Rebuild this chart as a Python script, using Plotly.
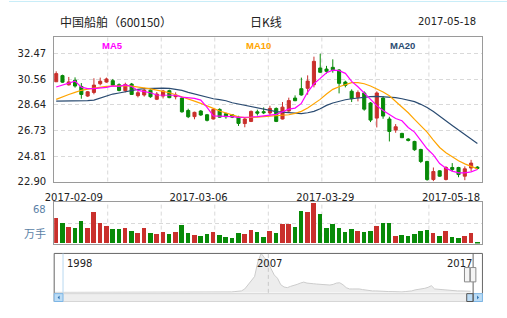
import plotly.graph_objects as go

W, H = 507, 318

# ---------------- data ----------------
opens = [30.37, 30.83, 30.14, 30.48, 30.02, 29.30, 29.57, 30.22, 30.35, 30.45,
         30.15, 29.70, 30.20, 29.33, 29.38, 29.74, 29.06, 29.30, 29.70, 29.25,
         29.15, 28.22, 27.76, 28.18, 27.90, 27.58, 28.30, 27.98, 27.90, 27.72,
         27.24, 27.40, 28.12, 28.13, 28.03, 28.37, 27.58, 28.18, 29.15, 29.85,
         29.88, 30.15, 31.40, 31.32, 31.45, 31.25, 30.35, 29.66, 29.20, 29.53,
         28.78, 27.65, 29.15, 27.58, 26.75, 26.50, 26.08, 25.90, 25.30, 24.40,
         23.05, 23.70, 23.05, 23.95, 23.95, 23.30, 23.91, 23.98]
highs = [31.15, 30.90, 30.73, 30.70, 30.27, 29.68, 30.63, 30.68, 30.68, 30.58,
         30.25, 30.30, 30.28, 29.68, 29.92, 29.80, 29.60, 29.76, 29.78, 29.58,
         29.22, 28.35, 28.13, 28.25, 27.96, 28.35, 28.38, 28.05, 27.95, 27.82,
         27.72, 28.22, 28.28, 28.45, 28.57, 28.45, 28.85, 29.18, 29.35, 30.68,
         30.85, 32.25, 32.47, 31.56, 32.05, 31.32, 30.45, 29.80, 29.72, 29.65,
         28.85, 29.65, 29.30, 27.75, 27.20, 26.55, 26.15, 25.95, 25.35, 24.45,
         23.95, 23.75, 24.05, 24.28, 24.00, 24.03, 24.52, 24.05]
lows = [30.35, 30.29, 30.09, 29.93, 29.10, 29.24, 29.43, 30.10, 30.30, 30.05,
        29.65, 29.58, 29.38, 29.20, 29.26, 29.17, 29.00, 29.12, 29.14, 29.05,
        28.05, 27.65, 27.56, 27.82, 27.40, 27.55, 27.68, 27.60, 27.65, 27.06,
        26.96, 27.35, 27.84, 27.95, 27.85, 27.35, 27.55, 28.12, 28.92, 29.33,
        29.40, 29.95, 31.02, 30.98, 31.05, 29.50, 29.95, 28.85, 28.90, 28.20,
        27.35, 26.95, 27.60, 25.90, 26.55, 26.16, 25.90, 25.20, 24.28, 22.95,
        22.92, 23.25, 22.98, 23.65, 23.22, 23.00, 23.66, 23.80]
closes = [30.98, 30.34, 30.36, 30.05, 29.42, 29.62, 30.12, 30.41, 30.58, 30.12,
          29.72, 30.17, 29.42, 29.55, 29.74, 29.25, 29.45, 29.68, 29.18, 29.38,
          28.12, 27.75, 28.08, 27.88, 27.48, 28.30, 27.72, 27.75, 27.72, 27.25,
          27.58, 28.15, 28.02, 28.05, 28.37, 27.40, 28.47, 28.96, 28.95, 29.38,
          30.42, 31.90, 31.08, 31.15, 31.27, 30.25, 30.10, 29.10, 29.56, 28.32,
          27.50, 29.53, 27.80, 26.65, 27.00, 26.18, 25.98, 25.28, 24.40, 23.05,
          23.65, 23.30, 23.95, 23.80, 23.42, 23.85, 24.28, 23.88]
volumes = [42.7, 34.3, 27.7, 26.0, 37.2, 25.5, 52.7, 34.3, 29.3, 23.8,
           23.3, 25.5, 21.0, 17.7, 25.5, 17.7, 16.0, 18.8, 16.0, 18.8,
           30.5, 17.7, 14.3, 12.7, 16.0, 18.8, 13.8, 10.5, 8.8, 17.2,
           16.0, 22.2, 18.8, 10.5, 20.5, 17.7, 32.7, 32.7, 27.7, 55.5,
           53.8, 68.0, 49.3, 25.5, 32.7, 26.0, 19.3, 24.3, 21.0, 19.3,
           20.5, 29.3, 34.3, 34.3, 12.7, 14.3, 12.7, 16.0, 20.5, 22.2,
           17.7, 12.7, 20.5, 10.5, 8.8, 12.7, 17.7, 1.7]
ma5 = [29.98, 30.14, 30.30, 30.42, 29.97, 29.85, 29.85, 29.88, 29.95, 30.06,
       30.02, 30.14, 30.02, 29.72, 29.65, 29.55, 29.38, 29.36, 29.35, 29.36,
       29.22, 29.16, 29.12, 29.00, 28.45, 27.81, 27.80, 27.80, 27.76, 27.70,
       27.69, 27.73, 27.76, 27.81, 27.88, 27.93, 28.12, 28.32, 28.40, 28.75,
       29.60, 30.22, 30.62, 31.05, 31.24, 31.20, 31.00, 30.40, 30.00, 29.52,
       29.00, 28.58, 28.22, 27.90, 27.62, 27.45, 26.95, 26.60, 25.95, 25.35,
       24.90, 24.25, 23.90, 23.68, 23.55, 23.55, 23.62, 23.80]
ma10 = [29.05, 29.25, 29.42, 29.58, 29.73, 29.82, 29.90, 29.96, 30.02, 30.05,
        30.07, 30.07, 30.04, 29.98, 29.92, 29.84, 29.74, 29.66, 29.55, 29.40,
        29.22, 29.07, 28.92, 28.75, 28.58, 28.38, 28.18, 28.03, 27.88, 27.74,
        27.69, 27.69, 27.72, 27.76, 27.79, 27.81, 27.85, 27.90, 28.00, 28.15,
        28.40, 28.70, 29.05, 29.45, 29.80, 30.00, 30.15, 30.30, 30.30, 30.22,
        30.05, 29.85, 29.60, 29.32, 28.90, 28.50, 28.05, 27.55, 27.05, 26.60,
        26.00, 25.45, 25.05, 24.75, 24.45, 24.22, 24.05, 23.85]
ma20 = [28.92, 28.92, 28.92, 28.92, 28.93, 28.96, 29.00, 29.15, 29.33, 29.45,
        29.53, 29.63, 29.72, 29.80, 29.85, 29.88, 29.89, 29.89, 29.88, 29.82,
        29.72, 29.58, 29.45, 29.33, 29.20, 29.10, 29.03, 28.95, 28.80, 28.70,
        28.60, 28.50, 28.40, 28.30, 28.20, 28.14, 28.10, 28.05, 28.00, 27.98,
        28.05, 28.15, 28.35, 28.60, 28.78, 28.92, 29.02, 29.10, 29.16, 29.20,
        29.25, 29.28, 29.25, 29.22, 29.18, 29.10, 29.00, 28.88, 28.68, 28.45,
        28.15, 27.82, 27.45, 27.10, 26.75, 26.40, 26.05, 25.75]
price_ticks = [22.90, 24.81, 26.73, 28.64, 30.56, 32.47]
date_labels = ["2017-02-09", "2017-03-06", "2017-03-29", "2017-05-18"]
vol_labels = ["68", "万手"]
nav_vals = [1.5, 1.5, 1.5, 1.5, 1.5, 1.5, 1.5, 1.5, 1.5, 1.5,
            1.5, 1.5, 1.5, 1.5, 1.5, 1.5, 1.5, 1.5, 1.5, 1.5,
            1.5, 2, 2.5, 2.5, 2.5, 2, 2, 2, 2, 2,
            2, 2, 2, 2, 2, 2, 2, 2, 2, 2,
            2, 2, 2, 2, 2, 2, 2, 2, 2, 2,
            2, 2, 2,
            2, 3, 4, 4, 6, 12, 25, 38, 50, 95,
            121, 108, 95, 75, 55, 45, 25, 18, 16, 20,
            22, 26, 30, 33, 30, 30, 28, 27, 26, 25,
            24, 24, 26, 30, 31, 25, 16, 12, 12, 13,
            12, 10, 8, 6, 6, 6, 5, 5, 4, 4,
            4, 3, 3, 3, 4, 4, 6, 9, 10, 11,
            14, 17, 22, 12, 11, 9, 8, 7, 7, 6,
            6, 6, 6, 6, 5]
nav_years = ["1998", "2007", "2017"]

# ---------------- layout helpers ----------------
def px(x):
    return x / W

def py(y):
    return 1 - y / H

RED = "#c9302c"
GREEN = "#088a08"
C_MA5 = "#ff00ff"
C_MA10 = "#ffa500"
C_MA20 = "#2b4c72"
FONT = "DejaVu Sans"
CJK = "Noto Sans CJK SC"

idx = list(range(len(opens)))
vol_colors = [RED if c >= o else GREEN for o, c in zip(opens, closes)]

L, R = 46, 482           # panel left/right pixels
MAIN_T, MAIN_B = 38, 185
VOL_T, VOL_B = 206.3, 248.3
NAV_T, NAV_B = 258.3, 298.5

slot = 6.4
first_center = 48.05
x_range = [(L - first_center) / slot, (R - first_center) / slot]
date_tick_pos = [(p - first_center) / slot for p in (66, 193, 322, 450)]

fig = go.Figure()

fig.add_trace(go.Candlestick(
    x=idx, open=opens, high=highs, low=lows, close=closes,
    increasing=dict(line=dict(color=RED, width=1), fillcolor=RED),
    decreasing=dict(line=dict(color=GREEN, width=1), fillcolor=GREEN),
    whiskerwidth=0, xaxis="x", yaxis="y", showlegend=False, hoverinfo="skip"))

for vals, col in ((ma20, C_MA20), (ma10, C_MA10), (ma5, C_MA5)):
    fig.add_trace(go.Scatter(x=idx, y=vals, mode="lines",
                             line=dict(color=col, width=1.2),
                             xaxis="x", yaxis="y", showlegend=False, hoverinfo="skip"))

fig.add_trace(go.Bar(x=idx, y=volumes, marker=dict(color=vol_colors, line=dict(width=0)),
                     width=0.73, xaxis="x2", yaxis="y2", showlegend=False, hoverinfo="skip"))

nav_x = list(range(len(nav_vals)))
fig.add_trace(go.Scatter(x=nav_x, y=nav_vals, mode="lines", fill="tozeroy",
                         fillcolor="#ededed", line=dict(color="#cccccc", width=1),
                         xaxis="x3", yaxis="y3", showlegend=False, hoverinfo="skip"))

grid_col = "#d9d9d9"
axis_col = "#9a9a9a"

fig.update_layout(
    width=W, height=H, margin=dict(l=0, r=0, t=0, b=0),
    paper_bgcolor="white", plot_bgcolor="white",
    font=dict(family=FONT, size=10, color="#333333"),
    bargap=0,
    xaxis=dict(domain=[px(L), px(R)], range=x_range, anchor="y",
               rangeslider=dict(visible=False), showgrid=False, zeroline=False,
               showline=True, mirror=True, linecolor=axis_col, linewidth=1,
               tickvals=date_tick_pos, ticktext=date_labels,
               ticks="outside", ticklen=6, tickcolor="rgba(0,0,0,0)",
               tickfont=dict(family=FONT, size=10, color="#222222")),
    yaxis=dict(domain=[py(MAIN_B), py(MAIN_T)],
               range=[22.90, 22.90 + (MAIN_B - MAIN_T) / 13.61], anchor="x",
               tickvals=price_ticks, ticktext=[f"{v:.2f}" for v in price_ticks],
               showgrid=True, gridcolor=grid_col, griddash="4px,3px", gridwidth=1,
               zeroline=False, showline=True, mirror=True, linecolor=axis_col,
               ticks="outside", ticklen=5, tickcolor="rgba(0,0,0,0)",
               tickfont=dict(family=FONT, size=10, color="#222222")),
    xaxis2=dict(domain=[px(L), px(R)], range=x_range, anchor="y2",
                showgrid=False, zeroline=False, showticklabels=False,
                showline=True, mirror=True, linecolor=axis_col),
    yaxis2=dict(domain=[py(VOL_B), py(VOL_T)], range=[0, 70], anchor="x2",
                tickvals=[35], ticktext=[""], showgrid=True, gridcolor=grid_col,
                griddash="4px,3px", zeroline=False, showline=True, mirror=True,
                linecolor=axis_col),
    xaxis3=dict(domain=[px(L), px(472)], range=[-0.2, 127.6], anchor="y3",
                showgrid=False, zeroline=False, showticklabels=False, showline=False),
    yaxis3=dict(domain=[py(NAV_B), py(NAV_T)], range=[0, 121], anchor="x3",
                showgrid=False, zeroline=False, showticklabels=False, showline=False),
)

shapes = []
# top cyan rule
shapes.append(dict(type="line", xref="paper", yref="paper", x0=0, x1=1,
                   y0=py(1.5), y1=py(1.5), line=dict(color="#c8edf8", width=1)))
# vertical dashed grid in main & volume panels
for k in range(1, 8):
    gx = px(L + 54.5 * k)
    for t, b in ((MAIN_T, MAIN_B), (VOL_T, VOL_B)):
        shapes.append(dict(type="line", xref="paper", yref="paper", x0=gx, x1=gx,
                           y0=py(b), y1=py(t), layer="below",
                           line=dict(color=grid_col, width=1, dash="4px,3px")))
# navigator frame
shapes.append(dict(type="rect", xref="paper", yref="paper", x0=px(L), x1=px(R),
                   y0=py(307.3), y1=py(NAV_T), line=dict(color="#666666", width=1)))
shapes.append(dict(type="line", xref="paper", yref="paper", x0=px(55), x1=px(55),
                   y0=py(299), y1=py(NAV_T), line=dict(color="#b8d8f0", width=1)))
shapes.append(dict(type="line", xref="paper", yref="paper", x0=px(264), x1=px(264),
                   y0=py(NAV_B), y1=py(NAV_T),
                   line=dict(color="#c8c8c8", width=1, dash="4px,3px")))
# scrollbar
shapes.append(dict(type="rect", xref="paper", yref="paper", x0=px(L), x1=px(R),
                   y0=py(307.3), y1=py(299.3), fillcolor="#eeeeee",
                   line=dict(color="#d6d6d6", width=1)))
for x0, x1 in ((46, 55), (472.5, 482)):
    shapes.append(dict(type="rect", xref="paper", yref="paper", x0=px(x0), x1=px(x1),
                       y0=py(307.3), y1=py(299.3), fillcolor="#bcdcf5",
                       line=dict(color="#7db6e6", width=1)))
shapes.append(dict(type="rect", xref="paper", yref="paper", x0=px(466), x1=px(472.5),
                   y0=py(307.3), y1=py(299.3), fillcolor="#bcdcf5",
                   line=dict(color="#555555", width=1)))
shapes.append(dict(type="line", xref="paper", yref="paper", x0=px(472.5), x1=px(472.5),
                   y0=py(307.3), y1=py(NAV_T), line=dict(color="#666666", width=1)))
# arrows
shapes.append(dict(type="path", xref="paper", yref="paper",
                   path=f"M {px(49.5)} {py(303.3)} L {px(51.5)} {py(301.3)} L {px(51.5)} {py(305.3)} Z",
                   fillcolor="#2a6fb0", line=dict(width=0)))
shapes.append(dict(type="path", xref="paper", yref="paper",
                   path=f"M {px(478.5)} {py(303.3)} L {px(476.5)} {py(301.3)} L {px(476.5)} {py(305.3)} Z",
                   fillcolor="#2a6fb0", line=dict(width=0)))
# navigator handles
for x0, x1 in ((463.7, 469.2), (469.7, 475.3)):
    shapes.append(dict(type="rect", xref="paper", yref="paper", x0=px(x0), x1=px(x1),
                       y0=py(287.3), y1=py(272.7), fillcolor="#f4f4f4",
                       line=dict(color="#8a8a8a", width=1)))
fig.update_layout(shapes=shapes)

ann = []
def text(x, y, s, anchor="center", size=10, color="#222222", family=FONT, bold=False):
    ann.append(dict(x=px(x), y=py(y), xref="paper", yref="paper", text=(f"<b>{s}</b>" if bold else s),
                    showarrow=False, xanchor=anchor, yanchor="middle",
                    font=dict(size=size, color=color, family=family)))

text(50, 21.7, "中国船舶（600150）", anchor="left", size=12, family=CJK)
text(262, 21.7, "日K线", size=12, family=CJK)
text(477, 21.7, "2017-05-18", anchor="right", size=10)
text(105, 46, "MA5", size=9.5, color=C_MA5, family="Liberation Sans", bold=True)
text(253.7, 46, "MA10", size=9.5, color=C_MA10, family="Liberation Sans", bold=True)
text(400.5, 46, "MA20", size=9.5, color=C_MA20, family="Liberation Sans", bold=True)
for s, yc, fam, sz in zip(vol_labels, (214, 237.7), (FONT, CJK), (10, 11)):
    text(40, yc, s, anchor="right", size=sz, color="#5b7fa6", family=fam)
for s, xc in zip(nav_years, (71.5, 265, 458.5)):
    text(xc, 269, s, size=10)
fig.update_layout(annotations=ann)

fig.write_html("out.html", config=dict(displayModeBar=False))
